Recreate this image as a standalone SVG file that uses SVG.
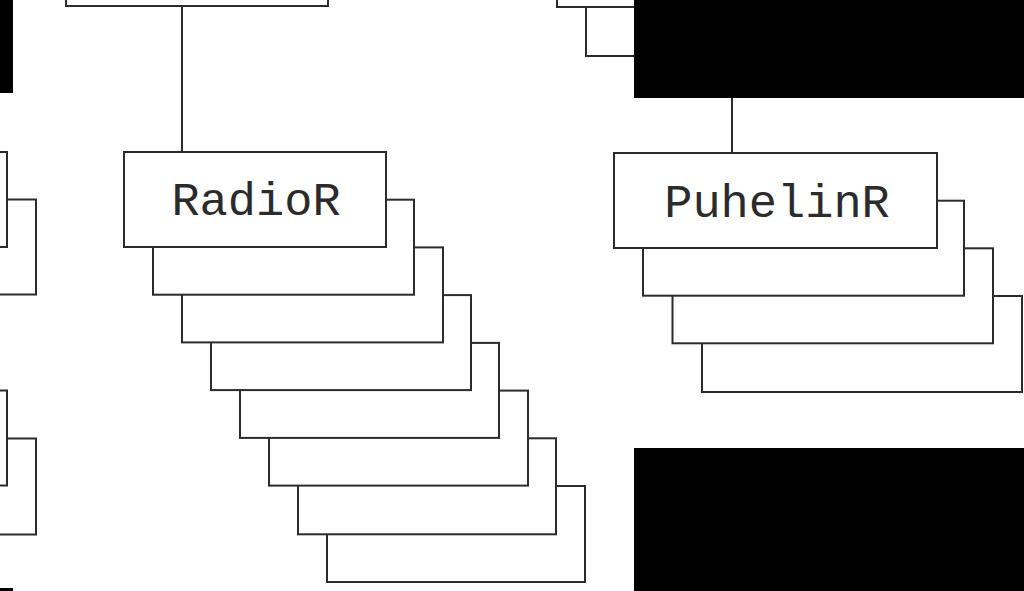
<svg xmlns="http://www.w3.org/2000/svg" width="1024" height="591" viewBox="0 0 1024 591">
<style>
.b{fill:#fff;stroke:#2b2b2b;stroke-width:2}
.c{stroke:#2b2b2b;stroke-width:2;fill:none}
.t{font-family:"Liberation Mono","Courier New",monospace;font-size:47px;fill:#2b2b2b;text-anchor:middle}
.m{fill:#000}
</style>
<rect width="1024" height="591" fill="#fff"/>
<g id="connectors">
<line class="c" x1="182" y1="6" x2="182" y2="152"/>
<line class="c" x1="732" y1="98" x2="732" y2="153"/>
</g>
<g id="top-left-node">
<rect class="b" x="66" y="-89" width="262" height="95"/>
</g>
<g id="top-right-node">
<rect class="b" x="586" y="-39" width="321" height="95"/>
<rect class="b" x="557" y="-88" width="321" height="95"/>
</g>
<g id="left-node-upper">
<rect class="b" x="-225" y="199.5" width="261" height="95"/>
<rect class="b" x="-254" y="152" width="261" height="95"/>
</g>
<g id="left-node-lower">
<rect class="b" x="-225" y="438.5" width="261" height="96"/>
<rect class="b" x="-254" y="390.5" width="261" height="95"/>
</g>
<g id="RadioR">
<rect class="b" x="327" y="486" width="258" height="96"/>
<rect class="b" x="298" y="438.3" width="258" height="96"/>
<rect class="b" x="269" y="390.6" width="259" height="95"/>
<rect class="b" x="240" y="342.9" width="259" height="95"/>
<rect class="b" x="211" y="295.1" width="260" height="95"/>
<rect class="b" x="182" y="247.4" width="261" height="95"/>
<rect class="b" x="153" y="199.7" width="261" height="95"/>
<rect class="b" x="124" y="152" width="262" height="95"/>
<text class="t" x="256" y="215">RadioR</text>
</g>
<g id="PuhelinR">
<rect class="b" x="702" y="296" width="320" height="96"/>
<rect class="b" x="672.5" y="248.3" width="320.5" height="95"/>
<rect class="b" x="643" y="200.7" width="321" height="95"/>
<rect class="b" x="614" y="153" width="323" height="95"/>
<text class="t" x="777" y="217">PuhelinR</text>
</g>
<g id="masks">
<rect class="m" x="0" y="0" width="13" height="93"/>
<rect class="m" x="0" y="588" width="13" height="3"/>
<rect class="m" x="634" y="0" width="390" height="98"/>
<rect class="m" x="634" y="448" width="390" height="143"/>
</g>
</svg>
